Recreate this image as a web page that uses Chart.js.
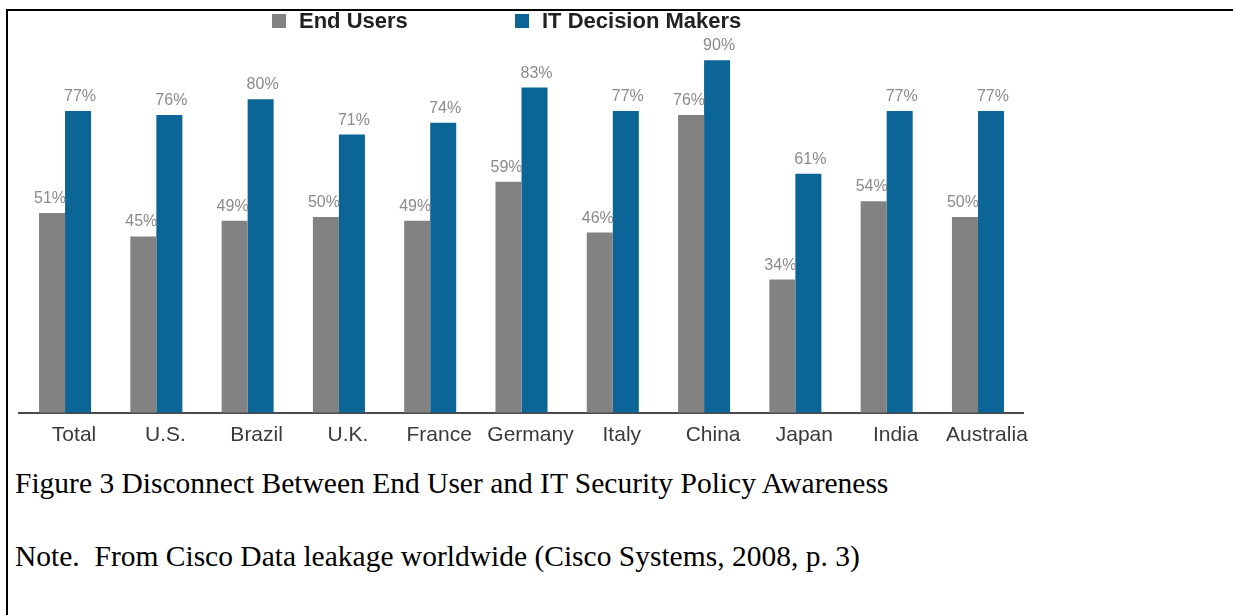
<!DOCTYPE html>
<html>
<head>
<meta charset="utf-8">
<title>Disconnect Between End User and IT Security Policy Awareness</title>
<script src="https://cdn.jsdelivr.net/npm/chart.js@4.4.1/dist/chart.umd.min.js"></script>
<style>
  html, body { margin: 0; padding: 0; background: #fff; }
  body { position: relative; width: 1233px; height: 615px; overflow: hidden; }
  .frame {
    position: absolute; left: 6px; top: 9px; width: 1300px; height: 700px;
    border-left: 2px solid #000; border-top: 2px solid #000;
  }
  .chart-box { position: absolute; left: 0; top: 0; width: 1233px; height: 460px; }
  .legend-item {
    position: absolute; top: 10px; height: 22px; line-height: 22px;
    display: flex; align-items: center;
    font: bold 22px "Liberation Sans", Arial, sans-serif; color: #222;
    white-space: nowrap;
  }
  .legend-item .swatch { width: 14px; height: 14px; margin-right: 13px; }
  .caption {
    position: absolute; left: 15px; line-height: 1;
    font-family: "Liberation Serif", "Times New Roman", serif; font-size: 29.5px;
    color: #000; white-space: nowrap;
  }
</style>
</head>
<body>
<div class="frame"></div>
<div class="chart-box"><canvas id="awarenessChart"></canvas></div>
<div id="legend"></div>
<div class="caption" style="top:469px">Figure 3 Disconnect Between End User and IT Security Policy Awareness</div>
<div class="caption" style="top:542px">Note.&nbsp; From Cisco Data leakage worldwide (Cisco Systems, 2008, p. 3)</div>

<script>
// Dữ liệu: tỷ lệ (%) nhận biết chính sách bảo mật theo quốc gia
const countries = ['Total', 'U.S.', 'Brazil', 'U.K.', 'France', 'Germany', 'Italy', 'China', 'Japan', 'India', 'Australia'];
const endUsers = [51, 45, 49, 50, 49, 59, 46, 76, 34, 54, 50];
const itDecisionMakers = [77, 76, 80, 71, 74, 83, 77, 90, 61, 77, 77];
const seriesNames = ['End Users', 'IT Decision Makers'];
const seriesColors = ['#828282', '#0b6597'];

// Chú thích vẽ bằng HTML (hai ô màu + tên nhóm)
const legendLeft = [272, 515];
const legendBox = document.getElementById('legend');
seriesNames.forEach((name, i) => {
  const item = document.createElement('div');
  item.className = 'legend-item';
  item.style.left = legendLeft[i] + 'px';
  item.innerHTML = `<span class="swatch" style="background:${seriesColors[i]}"></span>${name}`;
  legendBox.appendChild(item);
});

// Plugin ghi giá trị % phía trên mỗi cột
const valueLabels = {
  id: 'valueLabels',
  afterDatasetsDraw(chart) {
    const ctx = chart.ctx;
    ctx.save();
    ctx.font = '16px "Liberation Sans", Arial, sans-serif';
    ctx.fillStyle = '#8a8a8a';
    ctx.textBaseline = 'alphabetic';
    chart.data.datasets.forEach((ds, i) => {
      chart.getDatasetMeta(i).data.forEach((bar, j) => {
        const text = ds.data[j] + '%';
        if (i === 0) {
          // nhãn cột xám canh phải theo mép cột
          ctx.textAlign = 'right';
          ctx.fillText(text, bar.x + bar.width / 2 + 1, bar.y - 10);
        } else {
          ctx.textAlign = 'center';
          ctx.fillText(text, bar.x + 2, bar.y - 10);
        }
      });
    });
    ctx.restore();
  }
};

new Chart(document.getElementById('awarenessChart'), {
  type: 'bar',
  data: {
    labels: countries,
    datasets: [
      {
        label: seriesNames[0],
        data: endUsers,
        backgroundColor: seriesColors[0],
        categoryPercentage: 0.57,
        barPercentage: 1.0
      },
      {
        label: seriesNames[1],
        data: itDecisionMakers,
        backgroundColor: seriesColors[1],
        categoryPercentage: 0.57,
        barPercentage: 1.0
      }
    ]
  },
  options: {
    responsive: true,
    maintainAspectRatio: false,
    animation: false,
    layout: {
      padding: { left: 19.4, right: 209.4, top: 21, bottom: 2 }
    },
    plugins: {
      legend: { display: false },
      tooltip: { enabled: false }
    },
    scales: {
      x: {
        offset: true,
        grid: { display: false, drawTicks: false },
        border: { display: true, color: '#4a4a4a', width: 2 },
        ticks: {
          padding: 10,
          labelOffset: 9,
          maxRotation: 0,
          minRotation: 0,
          autoSkip: false,
          color: '#3a3a3a',
          font: { family: '"Liberation Sans", Arial, sans-serif', size: 21 }
        }
      },
      y: {
        display: false,
        min: 0,
        max: 100
      }
    }
  },
  plugins: [valueLabels]
});
</script>
</body>
</html>
